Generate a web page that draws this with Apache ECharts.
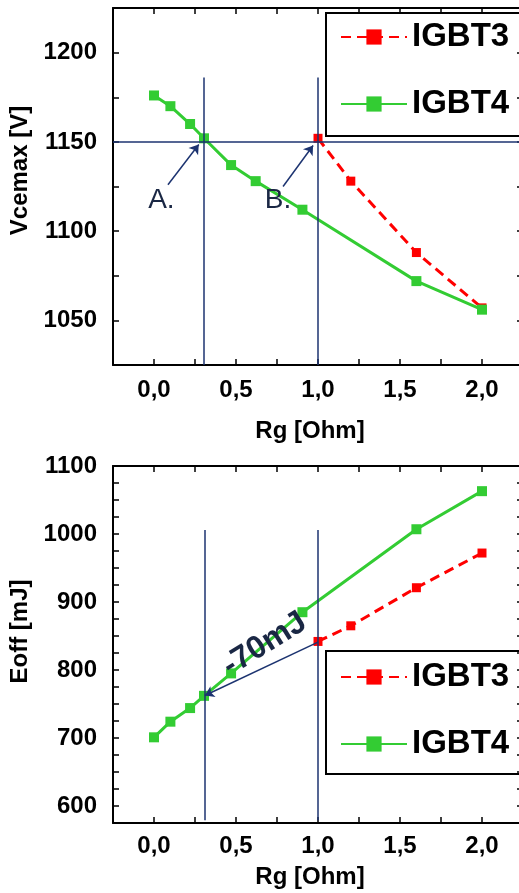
<!DOCTYPE html>
<html>
<head>
<meta charset="utf-8">
<script src="https://cdn.jsdelivr.net/npm/echarts@6/dist/echarts.min.js"></script>
<style>
  html, body { margin: 0; padding: 0; background: #fff; }
  #main { width: 519px; height: 893px; }
</style>
</head>
<body>
<div id="main"></div>
<script>
// Vcemax vs Rg (top)
var rgIgbt4Top = [0, 0.1, 0.22, 0.305, 0.47, 0.62, 0.905, 1.6, 2.0];
var vceIgbt4 = [1176, 1170, 1160, 1152, 1137, 1128, 1112, 1072, 1056];
var rgIgbt3Top = [1.0, 1.2, 1.6, 2.0];
var vceIgbt3 = [1152, 1128, 1088, 1057];

// Eoff vs Rg (bottom)
var rgIgbt4Bot = [0, 0.1, 0.22, 0.305, 0.47, 0.905, 1.6, 2.0];
var eoffIgbt4 = [701, 724, 744, 762, 795, 885, 1007, 1063];
var rgIgbt3Bot = [1.0, 1.2, 1.6, 2.0];
var eoffIgbt3 = [842, 865, 921, 972];

var seriesNames = ['IGBT3', 'IGBT4'];

function pairs(xs, ys) {
    return xs.map(function (x, i) { return [x, ys[i]]; });
}

var FONT = 'Liberation Sans';
var NAVY = '#1c3370';
var TEXTNAVY = '#1a2744';
var GREEN = '#33cc33';
var RED = '#ff0000';

function xLabel(v) {
    if (Math.abs(v * 2 - Math.round(v * 2)) > 1e-6) return '';
    return v.toFixed(1).replace('.', ',');
}

function xAxisMain(gridIndex, margin, nameGap) {
    return {
        gridIndex: gridIndex, type: 'value', position: 'bottom',
        min: -0.25, max: 2.25, interval: 0.25,
        name: 'Rg [Ohm]', nameLocation: 'middle', nameGap: nameGap,
        nameTextStyle: { fontFamily: FONT, fontSize: 24, fontWeight: 'bold', color: '#000', padding: [0, 16, 0, 0] },
        axisLine: { onZero: false, lineStyle: { color: '#000', width: 2 } },
        axisTick: { inside: true, length: 6, lineStyle: { color: '#000', width: 1.5 } },
        axisLabel: { margin: margin, fontFamily: FONT, fontSize: 24, fontWeight: 'bold', color: '#000', formatter: xLabel },
        splitLine: { show: false }
    };
}

function xAxisFrame(gridIndex) {
    return {
        gridIndex: gridIndex, type: 'value', position: 'top',
        min: -0.25, max: 2.25, interval: 0.25,
        axisLine: { onZero: false, lineStyle: { color: '#000', width: 2 } },
        axisTick: { inside: true, length: 6, lineStyle: { color: '#000', width: 1.5 } },
        axisLabel: { show: false }, splitLine: { show: false }
    };
}

function yAxisMain(gridIndex, min, max, step, name, nameGap, shift) {
    return {
        gridIndex: gridIndex, type: 'value', position: 'left',
        min: min, max: max, interval: 25,
        name: name, nameLocation: 'middle', nameGap: nameGap,
        nameTextStyle: { fontFamily: FONT, fontSize: 24, fontWeight: 'bold', color: '#000', padding: [0, 0, 0, shift] },
        axisLine: { onZero: false, lineStyle: { color: '#000', width: 2 } },
        axisTick: { inside: true, length: 6, lineStyle: { color: '#000', width: 1.5 } },
        axisLabel: {
            margin: 16, fontFamily: FONT, fontSize: 24, fontWeight: 'bold', color: '#000',
            formatter: function (v) { return v % step === 0 ? String(v) : ''; }
        },
        splitLine: { show: false }
    };
}

function yAxisFrame(gridIndex, min, max) {
    return {
        gridIndex: gridIndex, type: 'value', position: 'right',
        min: min, max: max, interval: 25,
        axisLine: { onZero: false, lineStyle: { color: '#000', width: 2 } },
        axisTick: { inside: true, length: 6, lineStyle: { color: '#000', width: 1.5 } },
        axisLabel: { show: false }, splitLine: { show: false }
    };
}

function legendAt(top, padding) {
    return {
        data: seriesNames, orient: 'vertical', left: 326, top: top,
        padding: padding, itemWidth: 66, itemHeight: 19, itemGap: 27, itemTextGap: 11,
        borderColor: '#000', borderWidth: 2, selectedMode: false,
        textStyle: { fontFamily: FONT, fontSize: 33, fontWeight: 'bold', color: '#000', lineHeight: 40 }
    };
}

var lineV = { color: NAVY, width: 1.5, type: 'solid' };
function textMark(coord, text, size, weight, rotate) {
    return {
        coord: coord, symbol: 'rect', symbolSize: 1, itemStyle: { color: 'transparent' },
        label: { show: true, position: 'inside', formatter: text, fontFamily: FONT, fontSize: size, fontWeight: weight, color: TEXTNAVY, rotate: rotate || 0 }
    };
}

var myChart = echarts.init(document.getElementById('main'));
var option = {
    animation: false,
    grid: [
        { left: 113, top: 8, width: 410, height: 357, outerBoundsMode: 'none' },
        { left: 113, top: 466, width: 410, height: 357, outerBoundsMode: 'none' }
    ],
    legend: [
        legendAt(13, [4, 60, 12, 14]),
        legendAt(651, [6, 60, 10, 14])
    ],
    xAxis: [xAxisMain(0, 13, 54), xAxisFrame(0), xAxisMain(1, 11, 42), xAxisFrame(1)],
    yAxis: [
        yAxisMain(0, 1025, 1225, 50, 'Vcemax [V]', 75, 32), yAxisFrame(0, 1025, 1225),
        yAxisMain(1, 575, 1100, 100, 'Eoff [mJ]', 77, 26), yAxisFrame(1, 575, 1100)
    ],
    series: [
        {
            name: 'IGBT3', type: 'line', xAxisIndex: 0, yAxisIndex: 0,
            data: pairs(rgIgbt3Top, vceIgbt3),
            symbol: 'rect', symbolSize: 9, z: 3,
            lineStyle: { color: RED, width: 3, type: [10, 6] }, itemStyle: { color: RED }
        },
        {
            name: 'IGBT4', type: 'line', xAxisIndex: 0, yAxisIndex: 0,
            data: pairs(rgIgbt4Top, vceIgbt4),
            symbol: 'rect', symbolSize: 10, z: 4,
            lineStyle: { color: GREEN, width: 3 }, itemStyle: { color: GREEN },
            markLine: {
                silent: true, symbol: ['none', 'none'], label: { show: false }, lineStyle: lineV,
                data: [
                    { yAxis: 1150 },
                    [{ coord: [0.305, 1186] }, { coord: [0.305, 1025] }],
                    [{ coord: [1.0, 1186] }, { coord: [1.0, 1025] }],
                    [{ coord: [0.085, 1126] }, { coord: [0.273, 1148.5], symbol: 'arrow', symbolSize: 9 }],
                    [{ coord: [0.787, 1125] }, { coord: [0.97, 1148], symbol: 'arrow', symbolSize: 9 }]
                ]
            },
            markPoint: {
                silent: true,
                data: [
                    textMark([0.045, 1117], 'A.', 28, 'normal'),
                    textMark([0.756, 1117], 'B.', 28, 'normal')
                ]
            }
        },
        {
            name: 'IGBT3', type: 'line', xAxisIndex: 2, yAxisIndex: 2,
            data: pairs(rgIgbt3Bot, eoffIgbt3),
            symbol: 'rect', symbolSize: 9, z: 3,
            lineStyle: { color: RED, width: 3, type: [10, 6] }, itemStyle: { color: RED }
        },
        {
            name: 'IGBT4', type: 'line', xAxisIndex: 2, yAxisIndex: 2,
            data: pairs(rgIgbt4Bot, eoffIgbt4),
            symbol: 'rect', symbolSize: 10, z: 4,
            lineStyle: { color: GREEN, width: 3 }, itemStyle: { color: GREEN },
            markLine: {
                silent: true, symbol: ['none', 'none'], label: { show: false }, lineStyle: lineV,
                data: [
                    [{ coord: [0.31, 1006] }, { coord: [0.31, 579] }],
                    [{ coord: [1.0, 1006] }, { coord: [1.0, 579] }],
                    [{ coord: [1.0, 841] }, { coord: [0.31, 762.5], symbol: 'arrow', symbolSize: 9 }]
                ]
            },
            markPoint: {
                silent: true,
                data: [textMark([0.675, 838], '-70mJ', 32, 900, 32)]
            }
        }
    ]
};
myChart.setOption(option);
</script>
</body>
</html>
